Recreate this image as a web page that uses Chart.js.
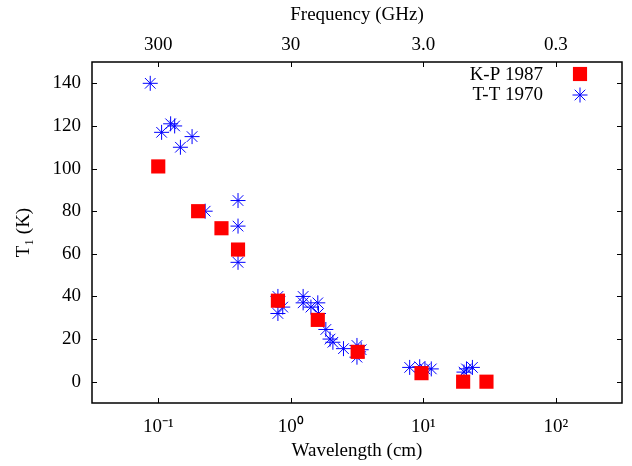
<!DOCTYPE html>
<html>
<head>
<meta charset="utf-8">
<script src="https://cdn.jsdelivr.net/npm/chart.js@4/dist/chart.umd.min.js"></script>
<style>
  html, body { margin: 0; padding: 0; background: #fff; }
  #wrap { width: 632px; height: 466px; }
</style>
</head>
<body>
<div id="wrap"><canvas id="chart" width="632" height="466"></canvas></div>
<script>
"use strict";

// K-P 1987 (red squares)
const kpWavelength = [0.1, 0.2, 0.3, 0.4, 0.8, 1.6, 3.2, 9.7, 20, 30];
const kpTemp = [101, 80, 72, 62, 38, 29, 14, 4, 0, 0];

// T-T 1970 (blue asterisks)
const ttWavelength = [
  0.087, 0.106, 0.124, 0.133, 0.147, 0.18, 0.226, 0.4, 0.4, 0.4,
  0.8, 0.87, 0.8, 1.24, 1.24, 1.42, 1.6, 1.62, 1.84, 1.98,
  2.08, 2.5, 3.16, 3.25, 3.16, 3.4, 7.9, 9.4, 10.3, 11.5,
  20.3, 21.2, 23.5,
];
const ttTemp = [
  140, 117, 121, 120, 110, 115, 80, 85, 73, 56,
  40, 35, 32, 40, 37, 35, 37, 32, 24.5, 20,
  18.5, 15.5, 17, 14, 11.5, 15, 6.7, 7, 6, 6,
  4.5, 6, 6.7,
];

const xTicks = [0.1, 1, 10, 100];
const xTickLabels = ["10\u207B\u00B9", "10\u2070", "10\u00B9", "10\u00B2"];
const freqTickLabels = ["300", "30", "3.0", "0.3"];
const yTicks = [0, 20, 40, 60, 80, 100, 120, 140];

const FONT = "'Liberation Serif', 'Times New Roman', serif";
const FONT_SIZE = 19;
const TICK_LEN = 5;

const toPoints = (xs, ys) => xs.map((x, i) => ({ x, y: ys[i] }));

// gnuplot style: border all round, small tics pointing inwards
const framePlugin = {
  id: "frame",
  afterDraw(chart) {
    const { ctx, chartArea: a, scales } = chart;
    ctx.save();
    ctx.strokeStyle = "#000";
    ctx.lineWidth = 1;
    ctx.beginPath();
    for (const v of yTicks) {
      const py = Math.round(scales.y.getPixelForValue(v)) + 0.5;
      ctx.moveTo(a.left, py); ctx.lineTo(a.left + TICK_LEN, py);
      ctx.moveTo(a.right, py); ctx.lineTo(a.right - TICK_LEN, py);
    }
    for (const v of xTicks) {
      const px = Math.round(scales.x.getPixelForValue(v)) + 0.5;
      ctx.moveTo(px, a.bottom); ctx.lineTo(px, a.bottom - TICK_LEN);
      const px2 = Math.round(scales.x2.getPixelForValue(v)) + 0.5;
      ctx.moveTo(px2, a.top); ctx.lineTo(px2, a.top + TICK_LEN);
    }
    ctx.stroke();
    ctx.lineWidth = 1.5;
    ctx.strokeRect(a.left, a.top, a.right - a.left, a.bottom - a.top);
    ctx.restore();
  },
};

// key in the top right corner, text right-aligned left of the sample
const keyPlugin = {
  id: "key",
  afterDraw(chart) {
    const { ctx } = chart;
    ctx.save();
    chart.data.datasets.forEach((ds, i) => {
      const y = 75 + i * 20;
      ctx.font = FONT_SIZE + "px " + FONT;
      ctx.fillStyle = "#000";
      ctx.textAlign = "right";
      ctx.textBaseline = "middle";
      ctx.fillText(ds.label, 543, y);
      const opts = chart.getDatasetMeta(i).data[0].options;
      ctx.fillStyle = opts.backgroundColor;
      ctx.strokeStyle = opts.borderColor;
      ctx.lineWidth = opts.borderWidth;
      Chart.helpers.drawPoint(ctx, {
        pointStyle: opts.pointStyle,
        radius: opts.radius,
        borderWidth: opts.borderWidth,
        rotation: 0,
      }, 580, y - (i === 0 ? 1 : 0));
    });
    ctx.restore();
  },
};

const tickFont = { family: FONT, size: FONT_SIZE };

// fixed axis band, no extra room kept for end labels
const fixHeight = (h) => (s) => { s.height = h; s.paddingLeft = 0; s.paddingRight = 0; };

new Chart(document.getElementById("chart"), {
  type: "scatter",
  data: {
    datasets: [
      {
        label: "K-P 1987",
        data: toPoints(kpWavelength, kpTemp),
        pointStyle: "rect",
        radius: 10,
        hoverRadius: 10,
        backgroundColor: "#ff0000",
        borderColor: "#ff0000",
        borderWidth: 0,
      },
      {
        label: "T-T 1970",
        data: toPoints(ttWavelength, ttTemp),
        pointStyle: "star",
        radius: 7.5,
        hoverRadius: 7.5,
        backgroundColor: "#0000ff",
        borderColor: "#0000ff",
        borderWidth: 1,
      },
    ],
  },
  options: {
    responsive: false,
    animation: false,
    events: [],
    layout: { padding: { right: 5, bottom: 0, top: 0, left: 0 } },
    plugins: { legend: { display: false }, tooltip: { enabled: false } },
    scales: {
      x: {
        type: "logarithmic",
        position: "bottom",
        min: Math.pow(10, -1.5),
        max: Math.pow(10, 2.5),
        afterBuildTicks: (s) => { s.ticks = xTicks.map((value) => ({ value })); },
        afterFit: fixHeight(63),
        grid: { display: false, drawTicks: false },
        border: { display: false },
        ticks: {
          color: "#000",
          font: tickFont,
          padding: 13,
          maxRotation: 0,
          autoSkip: false,
          callback: (v, i) => xTickLabels[i],
        },
        title: {
          display: true,
          text: "Wavelength (cm)",
          color: "#000",
          font: tickFont,
          padding: { top: 0, bottom: 4 },
        },
      },
      x2: {
        type: "logarithmic",
        position: "top",
        min: Math.pow(10, -1.5),
        max: Math.pow(10, 2.5),
        afterBuildTicks: (s) => { s.ticks = xTicks.map((value) => ({ value })); },
        afterFit: fixHeight(62),
        grid: { display: false, drawTicks: false },
        border: { display: false },
        ticks: {
          color: "#000",
          font: tickFont,
          padding: 6,
          maxRotation: 0,
          autoSkip: false,
          callback: (v, i) => freqTickLabels[i],
        },
        title: {
          display: true,
          text: "Frequency (GHz)",
          color: "#000",
          font: tickFont,
          padding: { top: 4, bottom: 0 },
        },
      },
      y: {
        type: "linear",
        position: "left",
        min: -10,
        max: 150,
        afterBuildTicks: (s) => { s.ticks = yTicks.map((value) => ({ value })); },
        afterFit: (s) => { s.width = 92; s.paddingTop = 0; s.paddingBottom = 0; },
        grid: { display: false, drawTicks: false },
        border: { display: false },
        ticks: {
          color: "#000",
          font: tickFont,
          padding: 11,
        },
        title: {
          display: true,
          text: "T\u2081 (K)",
          color: "#000",
          font: tickFont,
          padding: { top: 13, bottom: 0 },
        },
      },
    },
  },
  plugins: [framePlugin, keyPlugin],
});
</script>
</body>
</html>
